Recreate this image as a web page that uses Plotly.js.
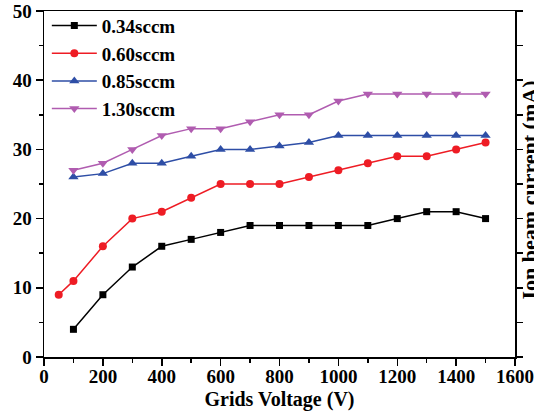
<!DOCTYPE html>
<html>
<head>
<meta charset="utf-8">
<script src="https://cdn.plot.ly/plotly-3.0.1.min.js"></script>
<style>html,body{margin:0;padding:0;background:#fff;}#chart{width:534px;height:417px;}</style>
</head>
<body>
<div id="chart"></div>
<script>
const seriesNames = ["0.34sccm", "0.60sccm", "0.85sccm", "1.30sccm"];
const x034 = [100, 200, 300, 400, 500, 600, 700, 800, 900, 1000, 1100, 1200, 1300, 1400, 1500];
const y034 = [4, 9, 13, 16, 17, 18, 19, 19, 19, 19, 19, 20, 21, 21, 20];
const x060 = [50, 100, 200, 300, 400, 500, 600, 700, 800, 900, 1000, 1100, 1200, 1300, 1400, 1500];
const y060 = [9, 11, 16, 20, 21, 23, 25, 25, 25, 26, 27, 28, 29, 29, 30, 31];
const x085 = [100, 200, 300, 400, 500, 600, 700, 800, 900, 1000, 1100, 1200, 1300, 1400, 1500];
const y085 = [26, 26.5, 28, 28, 29, 30, 30, 30.5, 31, 32, 32, 32, 32, 32, 32];
const x130 = [100, 200, 300, 400, 500, 600, 700, 800, 900, 1000, 1100, 1200, 1300, 1400, 1500];
const y130 = [27, 28, 30, 32, 33, 33, 34, 35, 35, 37, 38, 38, 38, 38, 38];

const xTitle = "Grids Voltage (V)";
const yTitle = "Ion beam current (mA)";

const FONT = "Liberation Serif, Times New Roman, serif";
const colors = ["#000000", "#ee1c24", "#2e4ea6", "#b05cb0"];
const symbols = ["square", "circle", "triangle-up", "triangle-down"];
const sizes = [7, 8, 9, 9];
const xs = [x034, x060, x085, x130];
const ys = [y034, y060, y085, y130];

const traces = seriesNames.map((n, i) => ({
  x: xs[i], y: ys[i], name: n, type: "scatter", mode: "lines+markers",
  line: {color: colors[i], width: 1.5},
  marker: {color: colors[i], symbol: symbols[i], size: sizes[i]}
}));
// invisible trace to drive right-side axis ticks
traces.push({x: [0], y: [0], yaxis: "y2", mode: "markers", marker: {opacity: 0}, showlegend: false, hoverinfo: "skip"});

const layout = {
  width: 534, height: 417,
  margin: {l: 44, r: 19, t: 11, b: 60, autoexpand: false},
  paper_bgcolor: "#fff", plot_bgcolor: "#fff",
  font: {family: FONT, size: 19, color: "#000", weight: "bold"},
  showlegend: true,
  legend: {x: 0.006, xref: "paper", y: 0.984, yref: "container", xanchor: "left", yanchor: "top",
           bgcolor: "rgba(0,0,0,0)",
           font: {family: FONT, size: 19, color: "#000", weight: "bold"}, itemwidth: 45},
  xaxis: {
    range: [0, 1600], dtick: 200, tick0: 0, showgrid: false, zeroline: false,
    showline: true, linecolor: "#000", linewidth: 1.5, mirror: true,
    ticks: "outside", ticklen: 7, tickwidth: 1.5, tickcolor: "#000",
    minor: {dtick: 100, ticks: "outside", ticklen: 4, tickwidth: 1.5, tickcolor: "#000"},
    tickfont: {family: FONT, size: 19, weight: "bold"}, ticklabelstandoff: -5,
    title: {text: xTitle, font: {family: FONT, size: 20, weight: "bold"}, standoff: 5}
  },
  yaxis: {
    range: [0, 50], dtick: 10, tick0: 0, showgrid: false, zeroline: false,
    showline: true, linecolor: "#000", linewidth: 1.5,
    ticks: "outside", ticklen: 7, tickwidth: 1.5, tickcolor: "#000",
    minor: {dtick: 5, ticks: "outside", ticklen: 4, tickwidth: 1.5, tickcolor: "#000"},
    tickfont: {family: FONT, size: 19, weight: "bold"}
  },
  yaxis2: {
    overlaying: "y", side: "right", range: [0, 50], dtick: 5, tick0: 0,
    showgrid: false, zeroline: false, showline: true, linecolor: "#000", linewidth: 1.5,
    ticks: "outside", ticklen: 6, tickwidth: 1.5, tickcolor: "#000", showticklabels: false
  },
  annotations: [{
    text: yTitle, xref: "paper", yref: "paper", x: 1, y: 0.4827,
    xanchor: "left", yanchor: "middle", xshift: 0, textangle: -90, showarrow: false,
    font: {family: FONT, size: 22, color: "#000", weight: "bold"}
  }]
};

Plotly.newPlot("chart", traces, layout, {staticPlot: true, displayModeBar: false});
</script>
</body>
</html>
